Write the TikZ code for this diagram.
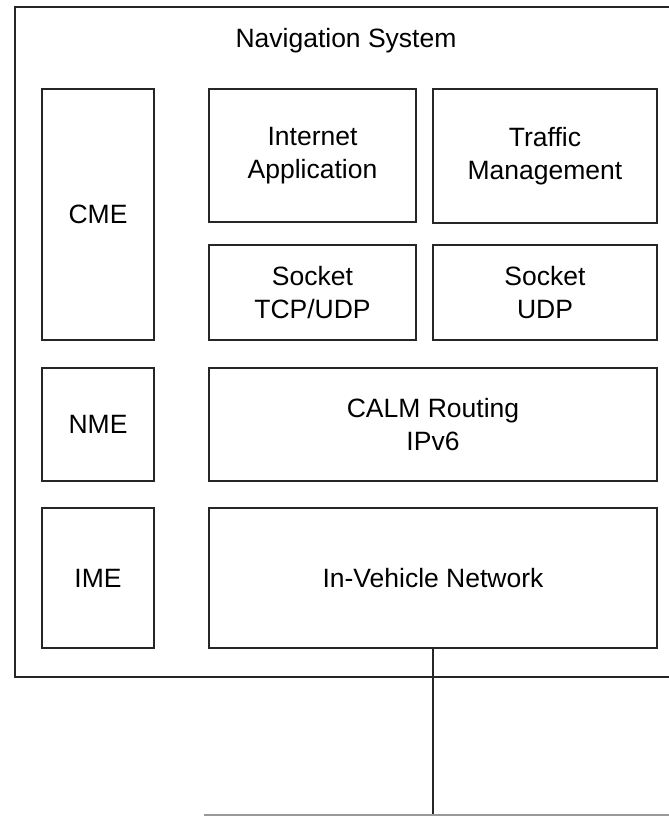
\documentclass[tikz,border=0pt]{standalone}
\usepackage{fontspec}
\setmainfont{Liberation Sans}
\usetikzlibrary{positioning}

\tikzset{
  block/.style={draw=black!85, line width=1.7pt, align=center, inner sep=0pt,
    font=\fontsize{26.5}{33}\selectfont},
}

\begin{document}
\begin{tikzpicture}[x=1pt, y=-1pt]
\clip (0,0) rectangle (669,817);
\useasboundingbox (0,0) rectangle (669,817);
\node[block, anchor=north west, minimum width=680pt, minimum height=670pt] (sys) at (14,6) {};
\node[font=\fontsize{26.5}{33}\selectfont] (title) at (346,41) {Navigation System};
\node[block, minimum width=112pt, minimum height=251pt] (cme) at (98,214.5) {CME};
\node[block, minimum width=207pt, minimum height=133pt] (inet) at (312.5,155.5) {Internet\\Application};
\node[block, minimum width=224pt, minimum height=134pt] (traffic) at (545,156) {Traffic\\Management};
\node[block, minimum width=207pt, minimum height=95pt] (socktcp) at (312.5,292.5) {Socket\\TCP/UDP};
\node[block, minimum width=224pt, minimum height=95pt] (sockudp) at (545,292.5) {Socket\\UDP};
\node[block, minimum width=112pt, minimum height=113pt] (nme) at (98,424.5) {NME};
\node[block, minimum width=448pt, minimum height=113pt] (calm) at (433,424.5) {CALM Routing\\IPv6};
\node[block, minimum width=112pt, minimum height=140pt] (ime) at (98,578) {IME};
\node[block, minimum width=448pt, minimum height=140pt] (ivn) at (433,578) {In-Vehicle Network};
\coordinate (bus) at (433,815);
\coordinate (busL) at (204,815);
\coordinate (busR) at (690,815);
\draw[line width=1.7pt, black!85] (ivn.south) -- (bus);
\draw[line width=1.5pt, black!40] (busL) -- (busR);
\end{tikzpicture}
\end{document}
